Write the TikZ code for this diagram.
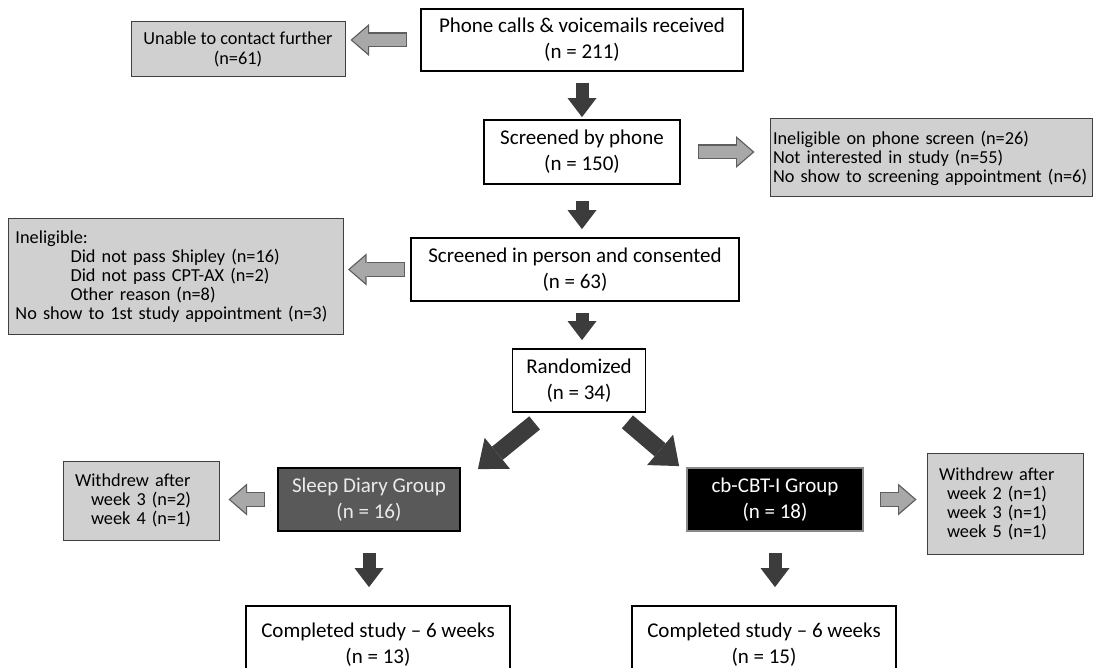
\documentclass[tikz,border=0pt]{standalone}
\usepackage{fontspec}
\setmainfont{Carlito}
\usepackage{tikz}
\usetikzlibrary{arrows.meta, calc}

\definecolor{notefill}{HTML}{D0D0D0}
\definecolor{noteline}{HTML}{404040}
\definecolor{darkarrow}{HTML}{3C3C3C}
\definecolor{grayfill}{HTML}{A8A8A8}
\definecolor{grayline}{HTML}{5E5E5E}
\definecolor{diaryfill}{HTML}{595959}
\definecolor{cbtline}{HTML}{8A8A8A}

\begin{document}
\begin{tikzpicture}[
	x=1pt, y=-1pt,
	box/.style={draw, line width=1.8pt, fill=white, align=center, inner sep=0pt, font=\fontsize{21}{26}\selectfont},
	note/.style={draw=noteline, line width=1pt, fill=notefill, align=left, inner ysep=0pt, font=\fontsize{18.3}{19}\selectfont},
	darrow/.style={draw=darkarrow, line width=13pt, -{Triangle[width=29pt, length=19pt, line width=0pt]}},
	bigarrow/.style={draw=darkarrow, line width=17pt, -{Triangle[width=40pt, length=25pt, line width=0pt]}},
	garrow/.style={draw=grayfill, line width=12.5pt, shorten <=1.2pt, shorten >=1.9pt,
		-{Triangle[width=26.5pt, length=15.5pt, line width=0pt]},
		preaction={draw=grayline, line width=15pt, shorten <=0pt, shorten >=0pt,
			-{Triangle[width=32pt, length=18.5pt, line width=0pt]}}}
]
\clip (0,0) rectangle (1094,668);

\node[box, minimum width=322pt, minimum height=62pt] (calls) at (582,40) {Phone calls \& voicemails received\\(n = 211)};
\node[note, align=center, inner xsep=0pt, minimum width=214pt, minimum height=55pt, font=\fontsize{18.3}{20}\selectfont] (unable) at (238,49.5) {Unable to contact further\\(n=61)};
\node[box, minimum width=196pt, minimum height=64pt] (phone) at (582,152) {Screened by phone\\(n = 150)};
\node[note, text width=316pt, inner xsep=3pt, minimum height=78pt] (phoneout) at (931,158) {Ineligible on phone screen (n=26)\\Not interested in study (n=55)\\No show to screening appointment (n=6)};
\node[box, minimum width=328pt, minimum height=63pt] (person) at (575,269.5) {Screened in person and consented\\(n = 63)};
\node[note, text width=321pt, inner xsep=7pt, minimum height=115pt] (personout) at (176,276.5) {Ineligible:\\\hspace*{55pt}Did not pass Shipley (n=16)\\\hspace*{55pt}Did not pass CPT-AX (n=2)\\\hspace*{55pt}Other reason (n=8)\\No show to 1st study appointment (n=3)};
\node[box, minimum width=133pt, minimum height=63pt] (rand) at (579,380.5) {Randomized\\(n = 34)};
\node[box, draw=black, fill=diaryfill, text=white!92!black, minimum width=182pt, minimum height=63pt] (diary) at (369,499.5) {Sleep Diary Group\\(n = 16)};
\node[note, text width=132pt, inner xsep=12pt, minimum height=79pt] (diaryout) at (141,500.5) {Withdrew after\\\hspace*{16pt}week 3 (n=2)\\\hspace*{16pt}week 4 (n=1)};
\node[box, draw=cbtline, fill=black, text=white, minimum width=176pt, minimum height=63pt] (cbt) at (775,499.5) {cb-CBT-I Group\\(n = 18)};
\node[note, text width=132pt, inner xsep=12pt, minimum height=101pt] (cbtout) at (1005,503.5) {Withdrew after\\\hspace*{8pt}week 2 (n=1)\\\hspace*{8pt}week 3 (n=1)\\\hspace*{8pt}week 5 (n=1)};
\node[box, minimum width=264pt, minimum height=78pt] (diarydone) at (378,645) {Completed study -- 6 weeks\\(n = 13)};
\node[box, minimum width=264pt, minimum height=78pt] (cbtdone) at (764,645) {Completed study -- 6 weeks\\(n = 15)};

\draw[darrow] ($(calls.south)+(0,11)$) -- ($(phone.north)+(0,-2)$);
\draw[darrow] ($(phone.south)+(0,16)$) -- ($(phone.south |- person.north)+(0,-8)$);
\draw[darrow] ($(phone.south |- person.south)+(0,11)$) -- ($(phone.south |- rand.north)+(0,-8)$);
\draw[bigarrow] ($(rand.south west)+(23,10)$) -- ($(diary.north east)+(17,2)$);
\draw[bigarrow] ($(rand.south east)+(-19,9)$) -- ($(cbt.north west)+(-7,-1)$);
\draw[darrow] ($(diary.south)+(0,21)$) -- ($(diary.south |- diarydone.north)+(0,-18)$);
\draw[darrow] ($(cbt.south)+(0,21)$) -- ($(cbt.south |- cbtdone.north)+(0,-18)$);

\draw[garrow] ($(calls.west)+(-13,0)$) -- ($(unable.east |- calls.west)+(5,0)$);
\draw[garrow] ($(phone.east)+(17,0)$) -- ($(phone.east -| phoneout.west)+(-15,0)$);
\draw[garrow] ($(person.west)+(-5,0)$) -- ($(person.west -| personout.east)+(4,0)$);
\draw[garrow] ($(diary.west)+(-12,0)$) -- ($(diary.west -| diaryout.east)+(9,0)$);
\draw[garrow] ($(cbt.east)+(16,0)$) -- ($(cbt.east -| cbtout.west)+(-10,0)$);
\end{tikzpicture}
\end{document}
